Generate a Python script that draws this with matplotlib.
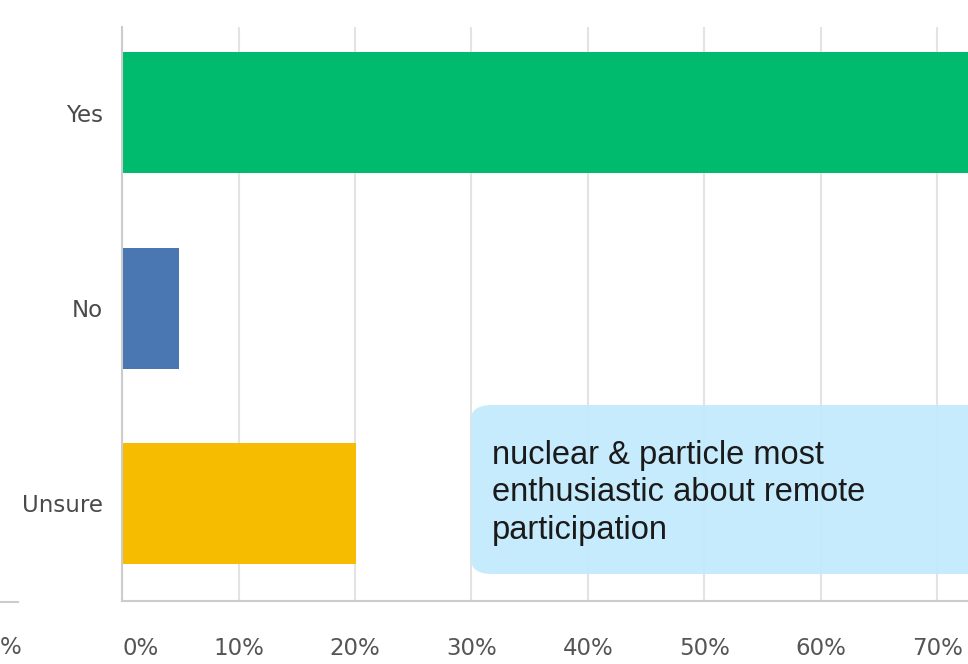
import matplotlib
matplotlib.use("Agg")
import matplotlib.pyplot as plt
from matplotlib.patches import FancyBboxPatch

categories = ["Yes", "No", "Unsure"]
values = [75.0, 4.9, 20.1]
colors = ["#00bb6e", "#4a76b2", "#f5bc00"]
xticks = [0, 10, 20, 30, 40, 50, 60, 70]
xticklabels = ["0%", "10%", "20%", "30%", "40%", "50%", "60%", "70%"]
note = "nuclear & particle most\nenthusiastic about remote\nparticipation"

W, H = 968, 664
fig = plt.figure(figsize=(W / 100, H / 100), dpi=100)
fig.patch.set_facecolor("white")

left, right, top, bottom = 122, 968, 27, 601
ax = fig.add_axes([left / W, 1 - bottom / H, (right - left) / W, (bottom - top) / H])

ypos = list(range(len(categories)))
ax.barh(ypos, values, height=0.62, color=colors, zorder=2)
ax.set_xlim(0, (right - left) / 11.65)
ax.set_ylim(2.5, -0.44)
ax.set_yticks(ypos)
ax.set_yticklabels(categories, fontsize=16.5, color="#4a4a4a", family="DejaVu Sans")
ax.set_xticks(xticks)
ax.set_xticklabels(xticklabels, fontsize=16.5, color="#555555", family="DejaVu Sans")
ax.get_xticklabels()[0].set_horizontalalignment("left")
ax.tick_params(axis="both", length=0)
ax.tick_params(axis="x", pad=26)
ax.tick_params(axis="y", pad=14)
ax.grid(axis="x", color="#e3e3e3", linewidth=1.5, zorder=0)
for s in ["top", "right"]:
    ax.spines[s].set_visible(False)
ax.spines["left"].set_color("#cccccc")
ax.spines["left"].set_linewidth(1.5)
ax.spines["bottom"].set_color("#cccccc")
ax.spines["bottom"].set_linewidth(1.5)
ax.spines["left"].set_zorder(3)

# annotation box
bx0, by0, bx1, by1 = 471, 405, 990, 574
box = FancyBboxPatch((bx0 / W, 1 - by1 / H), (bx1 - bx0) / W, (by1 - by0) / H,
                     boxstyle="round,pad=0,rounding_size=0.022",
                     transform=fig.transFigure, facecolor="#c2eafd", edgecolor="none",
                     alpha=0.92, zorder=5)
fig.add_artist(box)
fig.text(492 / W, 1 - 440 / H, note, fontsize=23.5, family="Liberation Sans",
         color="#1a1a1a", va="top", ha="left", linespacing=1.27, zorder=6)

# cropped neighbour chart fragment on the left
fig.add_artist(plt.Line2D([0, 18 / W], [1 - 602 / H, 1 - 602 / H], color="#cccccc",
                          linewidth=1.5, transform=fig.transFigure))
fig.text(0, 1 - 647 / H, "%", fontsize=16.5, color="#555555", family="DejaVu Sans",
         va="center", ha="left")

fig.savefig("out.png", dpi=100)
